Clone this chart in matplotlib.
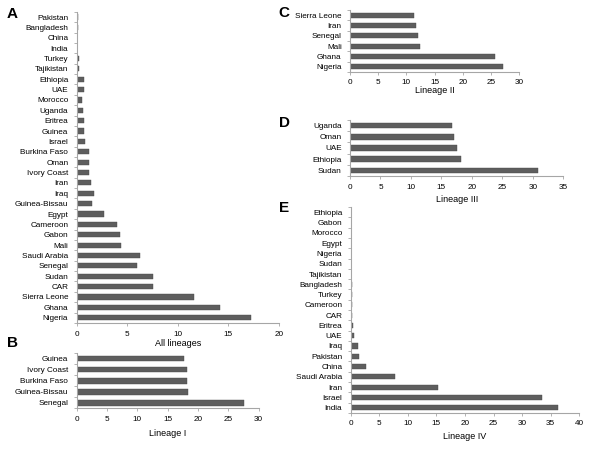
import matplotlib
matplotlib.use("Agg")
import matplotlib.pyplot as plt
import numpy as np

plt.rcParams['font.family'] = ['Liberation Sans', 'DejaVu Sans']

# Panel A: all lineages
a_labels = ["Pakistan", "Bangladesh", "China", "India", "Turkey", "Tajikistan", "Ethiopia",
            "UAE", "Morocco", "Uganda", "Eritrea", "Guinea", "Israel", "Burkina Faso", "Oman",
            "Ivory Coast", "Iran", "Iraq", "Guinea-Bissau", "Egypt", "Cameroon", "Gabon", "Mali",
            "Saudi Arabia", "Senegal", "Sudan", "CAR", "Sierra Leone", "Ghana", "Nigeria"]
a_values = [0.1, 0.1, 0.05, 0.05, 0.2, 0.25, 0.7, 0.7, 0.55, 0.6, 0.75, 0.75, 0.8, 1.2, 1.2,
            1.25, 1.4, 1.7, 1.5, 2.7, 4.0, 4.3, 4.4, 6.3, 6.0, 7.5, 7.5, 11.6, 14.2, 17.2]

# Panel B: lineage I
b_labels = ["Guinea", "Ivory Coast", "Burkina Faso", "Guinea-Bissau", "Senegal"]
b_values = [17.7, 18.2, 18.2, 18.4, 27.5]

# Panel C: lineage II
c_labels = ["Sierra Leone", "Iran", "Senegal", "Mali", "Ghana", "Nigeria"]
c_values = [11.4, 11.7, 12.0, 12.4, 25.7, 27.2]

# Panel D: lineage III
d_labels = ["Uganda", "Oman", "UAE", "Ethiopia", "Sudan"]
d_values = [16.7, 17.1, 17.55, 18.2, 30.8]

# Panel E: lineage IV
e_labels = ["Ethiopia", "Gabon", "Morocco", "Egypt", "Nigeria", "Sudan", "Tajikistan",
            "Bangladesh", "Turkey", "Cameroon", "CAR", "Eritrea", "UAE", "Iraq", "Pakistan",
            "China", "Saudi Arabia", "Iran", "Israel", "India"]
e_values = [0.0, 0.0, 0.0, 0.0, 0.02, 0.05, 0.1, 0.2, 0.2, 0.2, 0.3, 0.45, 0.5, 1.2, 1.4,
            2.7, 7.8, 15.2, 33.5, 36.2]

W, H = 600, 450
fig = plt.figure(figsize=(6, 4.5), dpi=100)
fig.patch.set_facecolor("white")

BAR = "#5e5e5e"
SPINE = "#a6a6a6"
FS = 5.9


def panel(x0, x1, y0, y1, labels, values, xmax, step, xlabel, letter, lx, ly, xlab_y):
    ax = fig.add_axes([x0 / W, 1 - y1 / H, (x1 - x0) / W, (y1 - y0) / H])
    n = len(labels)
    pos = np.arange(n)
    ax.barh(pos, values, height=0.5, color=BAR, edgecolor="#4a4a4a", linewidth=0.3)
    ax.set_ylim(n - 0.5, -0.5)
    ax.set_xlim(0, xmax)
    ax.set_yticks(pos)
    ax.set_yticklabels(labels, fontsize=FS)
    ax.set_yticks(np.arange(n + 1) - 0.5, minor=True)
    ax.tick_params(axis="y", which="major", length=0, pad=6)
    ax.tick_params(axis="y", which="minor", length=2.5, color=SPINE, width=0.6)
    ticks = np.arange(0, xmax + 0.1, step)
    ax.set_xticks(ticks)
    ax.set_xticklabels([str(int(v)) for v in ticks], fontsize=FS)
    ax.tick_params(axis="x", length=2.5, color=SPINE, width=0.6, pad=3)
    for s in ["top", "right"]:
        ax.spines[s].set_visible(False)
    for s in ["left", "bottom"]:
        ax.spines[s].set_color(SPINE)
        ax.spines[s].set_linewidth(0.8)
    fig.text((x0 + x1) / 2 / W, 1 - xlab_y / H, xlabel, ha="center", va="center", fontsize=6.5)
    fig.text(lx / W, 1 - ly / H, letter, ha="center", va="center", fontsize=11, fontweight="bold")
    return ax


n_a = len(a_labels)
sp_a = (317.7 - 17) / (n_a - 1)
panel(76.7, 279, 17 - sp_a / 2, 317.7 + sp_a / 2, a_labels, a_values, 20, 5, "All lineages", "A", 12, 14, 343)
panel(76.7, 258.7, 353.2, 408.3, b_labels, b_values, 30, 5, "Lineage I", "B", 12, 343, 433)
panel(350, 519.3, 10.2, 71.8, c_labels, c_values, 30, 5, "Lineage II", "C", 284, 13, 90.7)
panel(350, 563.3, 120.1, 175.9, d_labels, d_values, 35, 5, "Lineage III", "D", 284, 123, 199.3)
panel(350.7, 579.3, 207.2, 412.8, e_labels, e_values, 40, 5, "Lineage IV", "E", 284, 208, 436.7)

fig.savefig("out.png", dpi=100, facecolor="white")
